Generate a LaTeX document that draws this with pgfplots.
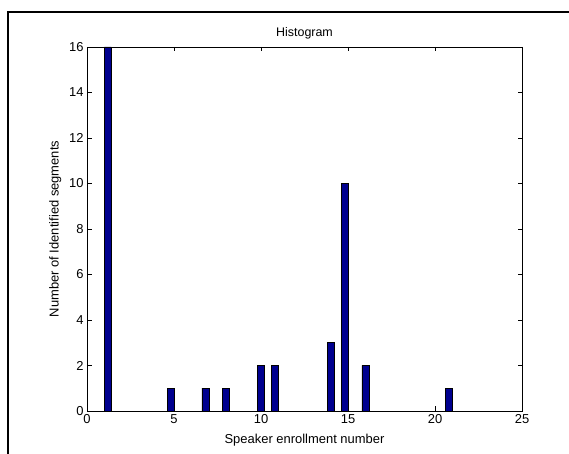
\documentclass[border=0pt]{standalone}
\usepackage{fontspec}
\setmainfont{Liberation Sans}
\usepackage{pgfplots}
\pgfplotsset{compat=1.18}
\definecolor{barblue}{rgb}{0,0,0.56}
\begin{document}
\begin{tikzpicture}[x=1bp,y=1bp]
\useasboundingbox (0,0) rectangle (569,454);
% outer frame of the figure
\draw[line width=1.8bp] (8.3,0) -- (8.3,441.7) -- (569,441.7);
\begin{axis}[
  at={(87bp,43bp)}, anchor=south west,
  scale only axis,
  width=435bp, height=364bp,
  xmin=0, xmax=25, ymin=0, ymax=16,
  xtick={0,5,...,25}, ytick={0,2,...,16},
  tick align=inside,
  major tick length=4.5bp,
  axis line style={line width=0.8bp},
  tick style={line width=0.6bp, black},
  /pgf/number format/assume math mode=true,
  tick label style={font=\fontsize{13}{15}\selectfont},
  xticklabel style={yshift=0bp},
  title={Histogram},
  title style={font=\fontsize{12.5}{14}\selectfont, yshift=-2bp},
  xlabel={Speaker enrollment number},
  ylabel={Number of Identified segments},
  label style={font=\fontsize{13}{15}\selectfont},
  xlabel style={yshift=-4bp},
  ylabel style={yshift=1bp},
]
\addplot[ybar, bar width=0.4, bar shift=0pt, fill=barblue, draw=black, line width=0.5bp] coordinates {
  (1.2,16) (4.8,1) (6.8,1) (8.0,1) (10.0,2) (10.8,2)
  (14.0,3) (14.8,10) (16.0,2) (20.8,1)
};
\end{axis}
\end{tikzpicture}
\end{document}
